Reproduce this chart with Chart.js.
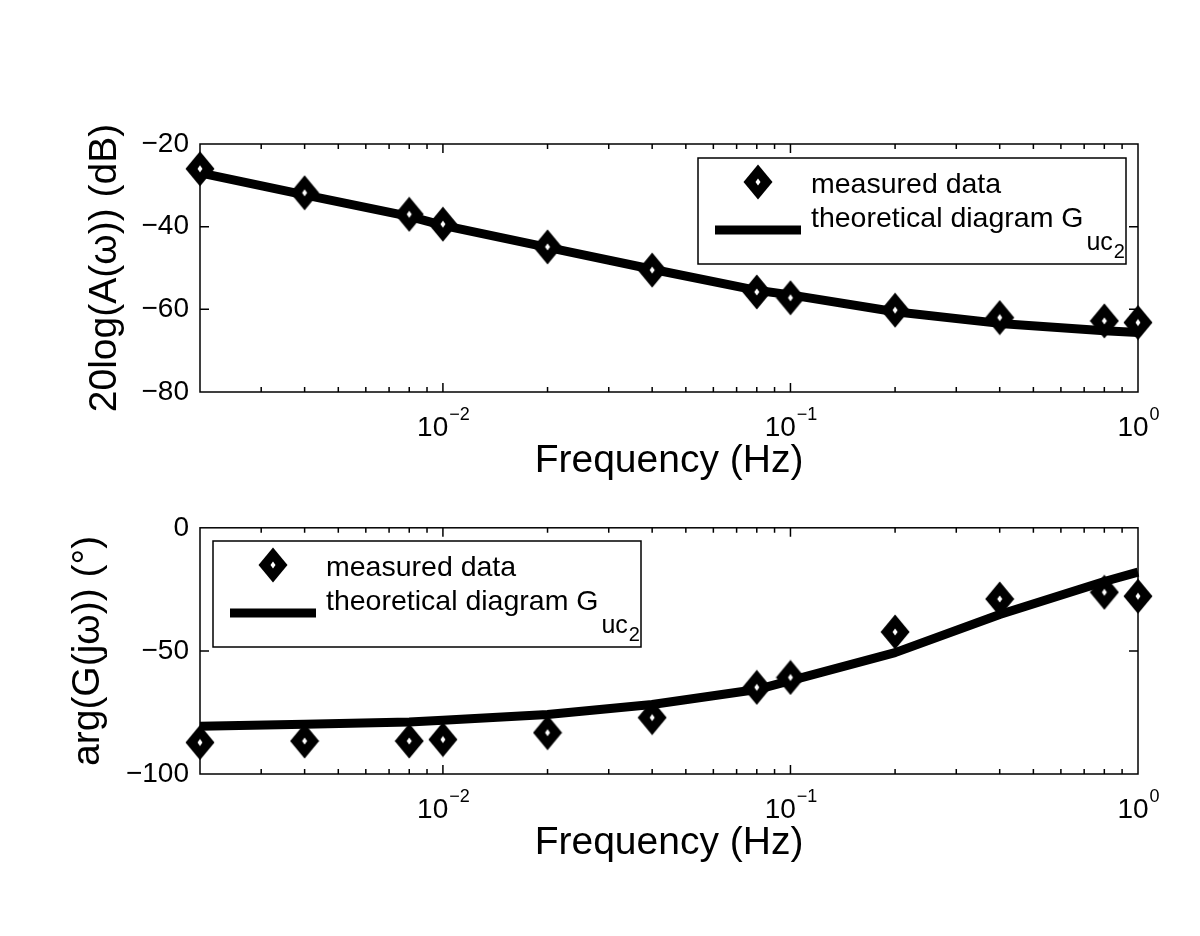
<!DOCTYPE html>
<html>
<head>
<meta charset="utf-8">
<script src="https://cdn.jsdelivr.net/npm/chart.js@4.4.1/dist/chart.umd.min.js"></script>
<style>
  html,body{margin:0;padding:0;background:#fff;}
  #wrap{position:relative;width:1200px;height:936px;overflow:hidden;background:#fff;}
  .plot{position:absolute;left:0;width:1200px;}
  #p1{top:0;height:500px;}
  #p2{top:500px;height:436px;}
</style>
</head>
<body>
<div id="wrap">
  <div class="plot" id="p1"><canvas id="c1"></canvas></div>
  <div class="plot" id="p2"><canvas id="c2"></canvas></div>
</div>
<script>
// -- data --
const freq        = [0.002, 0.004, 0.008, 0.01, 0.02, 0.04, 0.08, 0.1, 0.2, 0.4, 0.8, 1];
const magMeasured = [-26.0, -31.8, -37.0, -39.4, -44.9, -50.5, -55.8, -57.2, -60.2, -62.0, -62.8, -63.2];
const magTheory   = [-27.0, -32.3, -37.5, -39.7, -45.0, -50.3, -55.4, -56.5, -60.6, -63.4, -65.2, -65.6];
const phMeasured  = [-87.2, -86.6, -86.6, -86.0, -83.2, -77.1, -64.8, -60.8, -42.3, -28.9, -26.2, -27.8];
const phTheory    = [-80.6, -79.8, -78.9, -78.2, -75.8, -71.8, -65.7, -62.1, -50.7, -35.2, -21.8, -18.0];

const xRange      = [0.002, 1];
const xDecades    = [0.001, 0.01, 0.1, 1];
const xLabelVals  = [0.01, 0.1, 1];
const xLabelExps  = ['\u22122', '\u22121', '0'];
const magTicks    = {min: -80, max: -20, step: 20};
const phTicks     = {min: -100, max: 0, step: 50};
const legendLabels = ['measured data', 'theoretical diagram G'];
const legendSub    = ['uc', '2'];

const FONT = '"Liberation Sans", Arial, Helvetica, sans-serif';
Chart.defaults.font.family = FONT;
Chart.defaults.color = '#000';

// minor/major log ticks 1..9 per decade
const xTickVals = [];
xDecades.forEach(d => {
  for (let k = 1; k <= 9; k++) {
    const v = +(d * k).toPrecision(6);
    if (v >= xRange[0] - 1e-12 && v <= xRange[1] + 1e-12) xTickVals.push({value: v, major: k === 1});
  }
});

// matlab-ish diamond marker
const marker = document.createElement('canvas');
marker.width = 30; marker.height = 36;
(() => {
  const g = marker.getContext('2d');
  g.fillStyle = '#000';
  g.beginPath(); g.moveTo(15, 0.5); g.lineTo(29.5, 18); g.lineTo(15, 35.5); g.lineTo(0.5, 18); g.closePath(); g.fill();
  g.fillStyle = '#fff';
  g.beginPath(); g.moveTo(15, 14.5); g.lineTo(17.5, 18); g.lineTo(15, 21.5); g.lineTo(12.5, 18); g.closePath(); g.fill();
})();

const frame = {
  id: 'frame',
  beforeDatasetsDraw(chart) {
    const {ctx, chartArea: a, scales: {x, y}} = chart;
    ctx.save();
    ctx.strokeStyle = '#000';
    ctx.lineWidth = 1.5;
    ctx.strokeRect(a.left, a.top, a.right - a.left, a.bottom - a.top);
    ctx.beginPath();
    x.ticks.forEach(t => {
      const px = x.getPixelForValue(t.value);
      if (px < a.left + 1 || px > a.right - 1) return;
      const len = t.major ? 9 : 5;
      ctx.moveTo(px, a.bottom); ctx.lineTo(px, a.bottom - len);
      ctx.moveTo(px, a.top); ctx.lineTo(px, a.top + len);
    });
    y.ticks.forEach(t => {
      const py = y.getPixelForValue(t.value);
      if (py < a.top + 1 || py > a.bottom - 1) return;
      ctx.moveTo(a.left, py); ctx.lineTo(a.left + 9, py);
      ctx.moveTo(a.right, py); ctx.lineTo(a.right - 9, py);
    });
    ctx.stroke();

    // 10^n labels
    ctx.fillStyle = '#000';
    ctx.textAlign = 'left';
    ctx.textBaseline = 'alphabetic';
    const base = a.bottom + 44;
    xLabelVals.forEach((v, i) => {
      const px = x.getPixelForValue(v);
      ctx.font = '28px ' + FONT;
      const w1 = ctx.measureText('10').width;
      ctx.font = '18px ' + FONT;
      const w2 = ctx.measureText(xLabelExps[i]).width;
      const left = px - (w1 + w2) / 2;
      ctx.font = '28px ' + FONT;
      ctx.fillText('10', left, base);
      ctx.font = '18px ' + FONT;
      ctx.fillText(xLabelExps[i], left + w1 + 1, base - 16);
    });
    ctx.restore();
  }
};

const bodeLegend = {
  id: 'bodeLegend',
  afterDraw(chart, args, opts) {
    const ctx = chart.ctx, L = opts.left, T = opts.top;
    ctx.save();
    ctx.fillStyle = '#fff';
    ctx.fillRect(L, T, 428, 106);
    ctx.strokeStyle = '#000';
    ctx.lineWidth = 1.5;
    ctx.strokeRect(L, T, 428, 106);
    ctx.drawImage(marker, L + 60 - marker.width / 2, T + 24 - marker.height / 2);
    ctx.lineWidth = 9;
    ctx.beginPath(); ctx.moveTo(L + 17, T + 72); ctx.lineTo(L + 103, T + 72); ctx.stroke();
    ctx.fillStyle = '#000';
    ctx.textAlign = 'left';
    ctx.textBaseline = 'alphabetic';
    ctx.font = '28.5px ' + FONT;
    ctx.fillText(legendLabels[0], L + 113, T + 35);
    ctx.fillText(legendLabels[1], L + 113, T + 69);
    let x = L + 113 + ctx.measureText(legendLabels[1]).width + 3;
    ctx.font = '25px ' + FONT;
    ctx.fillText(legendSub[0], x, T + 92);
    x += ctx.measureText(legendSub[0]).width + 1;
    ctx.font = '20px ' + FONT;
    ctx.fillText(legendSub[1], x, T + 100);
    ctx.restore();
  }
};

function bode(id, o) {
  return new Chart(document.getElementById(id), {
    type: 'scatter',
    data: {
      datasets: [
        {label: legendLabels[0], data: freq.map((f, i) => ({x: f, y: o.measured[i]})),
         pointStyle: marker, pointRadius: 14, showLine: false, clip: false},
        {label: legendLabels[1], data: freq.map((f, i) => ({x: f, y: o.theory[i]})),
         showLine: true, borderColor: '#000', backgroundColor: '#000', borderWidth: 9,
         borderJoinStyle: 'round', pointRadius: 0, clip: false}
      ]
    },
    options: {
      responsive: true, maintainAspectRatio: false, animation: false, devicePixelRatio: 1,
      events: [],
      layout: {padding: {left: 0, right: 62, top: o.padTop, bottom: 0}},
      plugins: {
        legend: {display: false},
        tooltip: {enabled: false},
        bodeLegend: {left: o.legLeft, top: o.legTop}
      },
      scales: {
        x: {
          type: 'logarithmic', min: xRange[0], max: xRange[1],
          grid: {display: false, drawTicks: false}, border: {display: false},
          ticks: {display: false},
          afterBuildTicks: s => { s.ticks = xTickVals.map(t => ({...t})); },
          afterFit: s => { s.height = o.xAxisH; },
          title: {display: true, text: 'Frequency (Hz)', font: {size: 39}, padding: {top: 0, bottom: o.xTitlePad}}
        },
        y: {
          min: o.ticks.min, max: o.ticks.max,
          grid: {display: false, drawTicks: false}, border: {display: false},
          ticks: {stepSize: o.ticks.step, font: {size: 28}, padding: 11,
                  callback: v => String(v).replace('-', '\u2212')},
          afterFit: s => { s.width = 200; },
          title: {display: true, text: o.yTitle, font: {size: 39}, padding: {top: o.yTitlePad, bottom: 0}}
        }
      }
    },
    plugins: [frame, bodeLegend]
  });
}

bode('c1', {measured: magMeasured, theory: magTheory, ticks: magTicks,
  padTop: 144, xAxisH: 108, xTitlePad: 15, yTitle: '20log(A(\u03c9)) (dB)', yTitlePad: 82,
  legLeft: 698, legTop: 158});
bode('c2', {measured: phMeasured, theory: phTheory, ticks: phTicks,
  padTop: 26, xAxisH: 162, xTitlePad: 69, yTitle: 'arg(G(j\u03c9)) (\u00b0)', yTitlePad: 65,
  legLeft: 213, legTop: 41});
</script>
</body>
</html>
